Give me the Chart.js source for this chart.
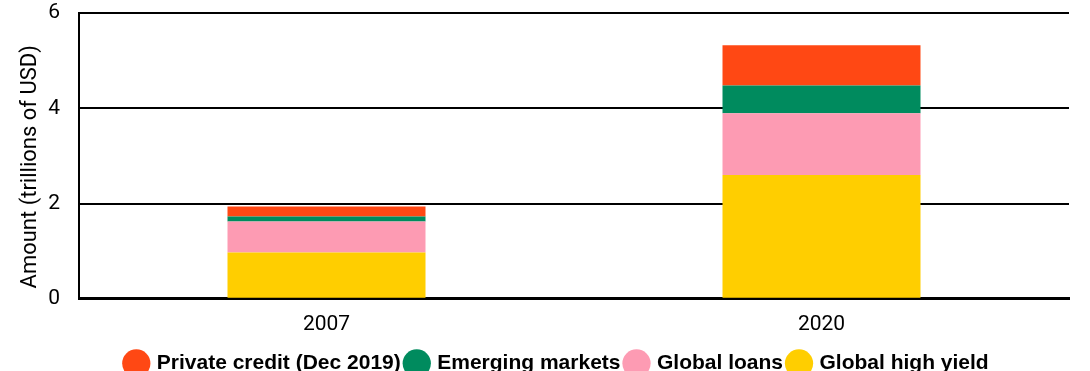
<!DOCTYPE html>
<html>
<head>
<meta charset="utf-8">
<script src="https://cdn.jsdelivr.net/npm/chart.js@4"></script>
<style>
  html, body { margin: 0; padding: 0; background: #fff; }
  #wrap { width: 1090px; height: 371px; }
</style>
</head>
<body>
<div id="wrap"><canvas id="chart" width="1090" height="371"></canvas></div>
<script>
// categories and stacked series (trillions of USD)
const years = ["2007", "2020"];
const highYield = [0.97, 2.60];
const loans = [0.655, 1.295];
const emerging = [0.105, 0.585];
const privateCredit = [0.21, 0.845];
const yTicks = [0, 2, 4, 6];

const seriesNames = ["Global high yield", "Global loans", "Emerging markets", "Private credit (Dec 2019)"];
const seriesColors = ["#ffce00", "#fd9bb3", "#008b5e", "#ff4814"];
const seriesData = [highYield, loans, emerging, privateCredit];

let datasets = [];
for (let i = 0; i < seriesData.length; i++) {
    datasets.push({
        label: seriesNames[i],
        data: seriesData[i],
        backgroundColor: seriesColors[i],
        borderWidth: 0,
        barPercentage: 0.4,
        categoryPercentage: 1.0
    });
}

const font = "Roboto, 'Liberation Sans', sans-serif";

// nudge the legend a bit right and up, like the original
const legendShift = {
    id: "legendShift",
    afterLayout(chart) {
        chart.legend.left += 18;
        chart.legend.right += 18;
        chart.legend.top -= 3;
        chart.legend.bottom -= 3;
    }
};

new Chart(document.getElementById("chart"), {
    type: "bar",
    data: { labels: years, datasets: datasets },
    plugins: [legendShift],
    options: {
        responsive: false,
        animation: false,
        layout: { padding: { top: 13, right: 21, left: 10, bottom: -16 } },
        plugins: {
            tooltip: { enabled: false },
            legend: {
                position: "bottom",
                reverse: true,
                labels: {
                    usePointStyle: true,
                    pointStyle: "circle",
                    boxWidth: 20,
                    boxHeight: 20,
                    padding: 6,
                    color: "#000",
                    font: { family: "'Liberation Sans', sans-serif", size: 21, weight: "bold" }
                }
            }
        },
        scales: {
            x: {
                stacked: true,
                grid: { display: false, drawTicks: false },
                border: { display: true, color: "#000", width: 3 },
                ticks: { color: "#000", padding: 13, font: { family: font, size: 21 } }
            },
            y: {
                stacked: true,
                min: 0,
                max: 6,
                afterBuildTicks: function (axis) {
                    axis.ticks = yTicks.map(v => ({ value: v }));
                },
                afterFit: function (axis) {
                    // fixed axis width, no extra room above/below for the labels
                    axis.width = 69;
                    axis.paddingTop = 0;
                    axis.paddingBottom = 0;
                },
                grid: { color: "#000", lineWidth: 2, drawTicks: false },
                border: { display: true, color: "#000", width: 2 },
                ticks: { color: "#000", padding: 19, font: { family: font, size: 21 } },
                title: {
                    display: true,
                    // trailing spaces push the title a little down, as in the original
                    text: "Amount (trillions of USD)    ",
                    color: "#000",
                    padding: { top: 7, bottom: 0 },
                    font: { family: font, size: 22 }
                }
            }
        }
    }
});
</script>
</body>
</html>
